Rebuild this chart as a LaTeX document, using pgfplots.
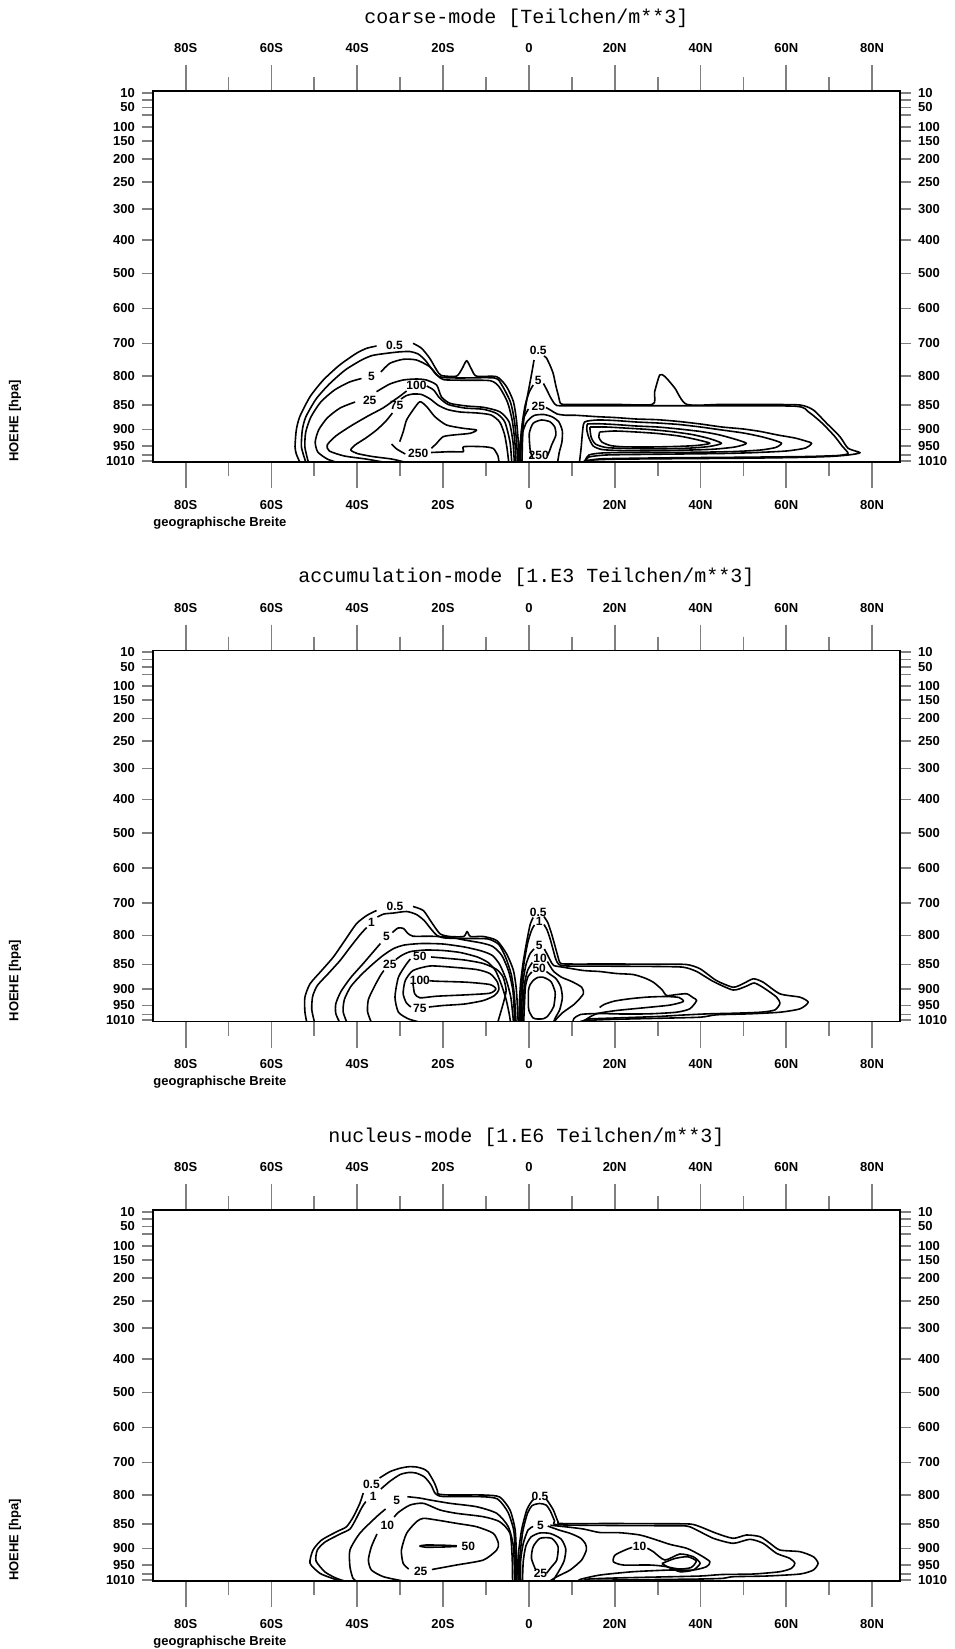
\documentclass[border=0pt]{standalone}
\usepackage{fontspec}
\usepackage{pgfplots}
\pgfplotsset{compat=1.18}
\setmainfont{Liberation Sans}
\newfontfamily\monofont{Liberation Mono}
\newcommand\tickfont{\fontsize{6.5}{7}\selectfont\bfseries}
\newcommand\clab{\fontsize{6}{6}\selectfont\bfseries}
\newcommand\titlefont{\fontsize{10}{12}\selectfont\monofont}

\pgfplotsset{
  zonal/.style={
    scale only axis, width=373.5pt, height=185.5pt,
    xmin=-87.6, xmax=86.5, ymin=0, ymax=371,
    axis line style={line width=0.9pt},
    tick align=outside,
    xtick={-80,-60,...,80},
    minor xtick={-70,-50,...,70},
    xticklabels={80S,60S,40S,20S,0,20N,40N,60N,80N},
    ytick={1.3,7,16,32.7,57,86,118.7,153.7,188.7,222,253,280.3,303,321.3,335.3,347,354.7,362,369.3},
    yticklabels={1010,,950,900,850,800,700,600,500,400,300,250,200,150,100,,50,,10},
    major tick length=5.5pt,
    major x tick style={line width=0.9pt,/pgfplots/major tick length=13pt},
    minor x tick style={line width=0.9pt,/pgfplots/minor tick length=7pt},
    major y tick style={line width=0.8pt},
    xticklabel style={font=\tickfont, yshift=-10pt},
    yticklabel style={font=\tickfont},
    unbounded coords=jump,
    every axis plot post/.append style={black, solid, mark=none, line width=0.8pt, smooth, tension=0.4, line join=round},
  },
  zonaltop/.style={zonal, xticklabel pos=upper, yticklabel pos=right, xticklabel style={yshift=20pt}},
}

\begin{document}
\begin{tikzpicture}[x=1pt,y=1pt]
\useasboundingbox (0,0) rectangle (477,-824.5);

% ---------------- coarse mode ----------------
\begin{axis}[zonal, at={(76.5pt,-231pt)}, anchor=south west]
% southern maximum
\addplot coordinates {(-53.4,0) (-54.2,8) (-54.5,15.3) (-54.2,32) (-53.4,45.3) (-51,65.3) (-47.9,82) (-44.1,97) (-40.2,108.7) (-37.8,113.7) (-35.5,116) (nan,nan) (-27,118.7) (-25,113.7) (-23.1,103.7) (-21.5,92) (-20.4,86.5) (-16.9,85.8) (-15.6,93) (-14.5,101.3) (-13.4,93) (-12.2,85.8) (-7.5,85.3) (-5.2,75.3) (-3.6,60.3) (-2.9,42) (-2.5,22) (-2.2,0)};
\addplot coordinates {(-52,0) (-53,15) (-52.8,32) (-52,45) (-49.6,63) (-46.5,78) (-42.8,92) (-39,102) (-36.5,106.5) (-33.5,108.5) (-30.5,110) (-27.8,110.5) (-25.8,108) (-24.2,102) (-22.8,94) (-21.5,87) (-20,84.5) (-16,84) (-8,84) (-6.3,77) (-4.3,60) (-3.4,42) (-2.9,22) (-2.6,0)};
\addplot coordinates {(-51.4,0) (-52.2,15) (-52,30) (-50.8,45) (-48.5,60) (-45.3,72) (-41.8,80) (-39,83.5) (nan,nan) (-34.5,90) (-32.4,98.7) (-29.3,102.7) (-26.2,102) (-23.1,95.3) (-21.2,86) (-19.8,82.3) (-16,81.8) (-9,81.3) (-6.9,75) (-5,60) (-3.9,42) (-3.3,22) (-3,0)};
\addplot coordinates {(-45,0) (-47,3) (-49.2,10) (-49.8,20) (-49,32) (-47,44) (-44,54) (-40.5,60) (nan,nan) (-35.5,70.3) (-32.4,78) (-29.3,82) (-26.2,83) (-23.9,82) (-21.5,77) (-20.4,65.3) (-18.4,58.7) (-14.5,56) (-10.6,54.7) (-6.8,50.3) (-4.6,40) (-3.7,20) (-3.4,0)};
\addplot coordinates {(-34,0) (-38,3) (-43,6) (-46.5,11) (-47,17) (-45,26) (-41.5,36) (-37.5,46) (-34,54) (-31.5,61.5) (-30,66) (-28.5,71) (nan,nan) (-23.8,76) (-22.2,72) (-20.8,64) (-18.8,57.5) (-15,54) (-10.6,52.7) (-7.5,48.5) (-5.6,40) (-4.4,20) (-4,0)};
\addplot coordinates {(-29,0) (-32,3) (-36.5,5.5) (-40,8.5) (-41.5,12) (-40.5,17) (-38,24) (-35.5,32) (-33.3,41) (-31.8,49) (nan,nan) (-29.8,63) (-28.5,66.5) (-27,68) (-25,67.5) (-23,63) (-21.2,57) (-19,52.5) (-16,50) (-12,49) (-8.8,47) (-6.8,40) (-5.7,28) (-5.1,14) (-4.7,0)};
\addplot coordinates {(-30.1,20.3) (-29.3,30) (-28.5,42) (-27,52) (-25.4,60.3) (-23.8,55.3) (-21.9,45.3) (-19.2,37) (-15.3,33.7) (-12.2,32) (-13.7,28.7) (-17.6,27) (-20,25.3) (-21.5,18.7) (-22.7,13.7)};
\addplot coordinates {(-32,18) (-30.8,13) (-28.8,8) (nan,nan) (-22.8,9.5) (-18.4,10.3) (-15.3,10.3) (-15.2,15.3) (-10.6,15.3) (-8.3,13.5) (-7.2,6) (-7,0)};
% equatorial tower and northern band
\addplot coordinates {(-1.6,0) (-1.5,20) (-1.2,42) (-0.5,62) (0.2,78) (0.8,92) (1.2,102) (nan,nan) (3.5,106) (4.1,104) (5,96) (5.7,88) (6.3,76) (6.9,66) (7.4,58.5) (9,57.6) (20,57.6) (28.8,57.6) (29.3,70) (30.5,87) (31.7,85.5) (34,74) (36.8,57.6) (45,57.6) (55,57.5) (63.2,57) (66.3,52) (69.4,38.7) (72.5,25.3) (74.4,13.7) (77.2,9.3) (74.4,7) (70,5.5) (62,4.5) (50,3.8) (40,3.5) (30,3.2) (20,2.8) (15,2) (13,0)};
\addplot coordinates {(-1.9,0) (-1.8,20) (-1.5,40) (-0.8,58) (0.1,70) (1,77) (nan,nan) (3.4,78.5) (4.2,72) (5,65) (5.7,60) (6.5,56.5) (9,56.2) (20,56.2) (40,56.2) (62,55.8) (65.2,50) (68.3,39) (71.2,26) (73,16) (74.4,8.5) (72,6.5) (65,5.5) (55,5) (45,4.6) (35,4.3) (25,3.8) (17,3.2) (13.5,1.5) (12.6,0)};
\addplot coordinates {(-2.1,0) (-2,18) (-1.7,33) (-1.1,45) (-0.1,53) (nan,nan) (4,54.5) (5.2,51.5) (6.6,48) (8.5,46.8) (11,46.7) (16,45.3) (20,44.5) (25,43) (30,42.3) (35,40.5) (40,38) (45,35) (50,33) (54,30.5) (58,27) (62,24) (64.5,21) (65.9,18.7) (64.5,14) (60,11) (52,9.3) (45,8.5) (35,8) (25,7.5) (18,7) (14,5) (13.2,0)};
\addplot coordinates {(-2.4,0) (-2.2,14) (-1.6,28) (-0.5,40) (1.2,46.5) (3.5,47.5) (5.5,45) (7,40) (7.8,31) (7.7,20) (7.1,10) (6.7,0)};
\addplot coordinates {(0.9,4) (0.3,12) (0.1,28.7) (1,38.7) (2.9,42) (4.9,40.3) (6,35.3) (6.3,27) (5.3,17) (4.9,12) (4.3,6)};
\addplot coordinates {(11.8,0) (12.2,15) (12.5,30) (13,40) (16,42) (20,41.5) (25,40) (30,39) (35,37.5) (40,35) (45,32) (50,29) (54,25.5) (57,22) (58.9,18.7) (57.5,14.5) (54,12) (48,10.5) (40,9.8) (30,9.5) (22,9.5) (17,9) (14,7) (12.9,0)};
\addplot coordinates {(13.6,38) (16,38.3) (20,37.5) (25,36) (30,35) (35,33) (40,30.5) (44,27.5) (47.5,23.5) (50.7,18.7) (48,15) (43,12.8) (36,11.8) (28,11.3) (21,11.5) (17,12.5) (15,16) (14,24) (13.5,32) (13.6,38)};
\addplot coordinates {(14.2,35) (18,35) (23,33.8) (28,32.5) (33,30.5) (38,27.5) (42,23.5) (44.9,18.7) (42,15.5) (37,13.8) (30,13.2) (23,13.5) (18,14.5) (15.5,18) (14.5,25) (14.2,35)};
\addplot coordinates {(16.5,30) (20,31) (25,30) (30,28.5) (35,26) (39,22.5) (42.2,18.7) (39,16.5) (34,15.5) (28,15) (22,15.2) (19,16.5) (17,20) (16.3,25) (16.5,30)};
\node[font=\clab] at (axis cs:-31.3,117) {0.5};
\node[font=\clab] at (axis cs:-36.7,85.3) {5};
\node[font=\clab] at (axis cs:-37.1,62) {25};
\node[font=\clab] at (axis cs:-26.2,76.5) {100};
\node[font=\clab] at (axis cs:-30.8,57) {75};
\node[font=\clab] at (axis cs:-25.8,8.7) {250};
\node[font=\clab] at (axis cs:2.2,111.3) {0.5};
\node[font=\clab] at (axis cs:2.2,82) {5};
\node[font=\clab] at (axis cs:2.2,56) {25};
\node[font=\clab] at (axis cs:2.3,7) {250};
\end{axis}
\begin{axis}[zonaltop, at={(76.5pt,-231pt)}, anchor=south west]
\end{axis}
\node[font=\titlefont] at (263.25,-9) {coarse-mode [Teilchen/m**3]};
\node[font=\tickfont, anchor=west, inner sep=0pt] at (76.5,-261.5) {geographische Breite};
\node[font=\tickfont, rotate=90] at (7.5,-210.5) {HOEHE [hpa]};

% ---------------- accumulation mode ----------------
\begin{axis}[zonal, at={(76.5pt,-510.75pt)}, anchor=south west]
\addplot coordinates {(-51.8,0) (-52.2,10) (-52.2,24.3) (-51,37.7) (-48.3,51) (-45.6,64.3) (-42.9,81) (-40.2,97.7) (-37.8,106) (-35.5,111) (nan,nan) (-27,115) (-24.6,111) (-22.7,99.3) (-20.7,87.7) (-18.4,85) (-15.2,85) (-14.4,90) (-13.6,85) (-10.6,85) (-7.5,81) (-5.2,67.7) (-3.6,51) (-2.9,31) (-2.5,0)};
\addplot coordinates {(-50,0) (-50.6,12) (-50.4,25) (-49.3,36) (-46.8,47.7) (-44,61) (-41.7,74) (-39.3,87) (-37.8,94) (nan,nan) (-35.3,104.5) (-33.8,107.5) (-31.5,108.5) (-28.5,110) (-26.2,107) (-24.4,101) (-22.9,93) (-21.4,86) (-19.5,83.5) (-14,83) (-9.5,82.5) (-7,77) (-5.4,64) (-4.1,47) (-3.4,27) (-3,0)};
\addplot coordinates {(-44.2,0) (-45,8) (-45,17.7) (-43.8,30) (-41.5,44) (-38.6,58) (-36.2,70) (-34.6,78) (nan,nan) (-31.8,89) (-30.5,93.5) (-29.2,93) (-28.3,88.5) (-27,85.3) (-23,85.3) (-18.4,84.3) (-15,81.5) (-11,78.5) (-8.4,75) (-6.3,66) (-4.7,50) (-3.7,30) (-3.3,0)};
\addplot coordinates {(-42.5,0) (-43.3,10) (-43,22) (-41.5,35) (-39,47) (-36.5,57) (-34,66) (-31.5,73) (-29,76.5) (-25,78) (-20,77.5) (-15,74.5) (-11,70.5) (-8.5,66) (-6.8,57) (-5.3,42) (-4.2,24) (-3.6,0)};
\addplot coordinates {(-36.8,0) (-37.6,10) (-37.4,22) (-36,35) (-34.6,46) (-33.8,51) (nan,nan) (-31,62) (-29.5,66.5) (-27.5,70) (-24,71.5) (-20,71) (-16,69) (-12,64.5) (-9.5,59) (-7.8,51) (-6.5,38) (-5.3,22) (-4.6,8) (-4.3,0)};
\addplot coordinates {(-7.2,0) (-6,17.7) (-5.3,31) (-6,44.3) (-7.5,52) (-10.6,58) (-15,61.5) (-20,63.5) (-22.8,64.5) (nan,nan) (-27.6,62.5) (-28.5,57.7) (-30.4,44.3) (-31.2,24.3) (-30.4,9.3) (-28.1,2.7) (-26,0)};
\addplot coordinates {(-23.3,14.5) (-20,16) (-15,17.5) (-10.6,21) (-8,26) (-7,32) (-7.4,40) (-9.1,48) (-12.2,52) (-18.4,54.5) (-23.1,55.5) (-27,51) (-28.8,41) (-29.3,28) (-28.6,19) (-27.5,14.5)};
\addplot coordinates {(-23.2,40.8) (-21.5,40.3) (-14.5,39.3) (-9.1,37) (-7.7,32.7) (-9.1,28.3) (-14.5,26.7) (-21.5,25.3) (-25.4,23.7) (-26.6,27.7) (-26.9,34.3) (-27,37.5)};
% equatorial tower and northern band
\addplot coordinates {(-2.3,0) (-2.2,20) (-1.9,40) (-1.3,60) (-0.5,80) (0.3,97) (1,104) (nan,nan) (3.5,105) (4.4,99) (5.2,89) (6,77) (6.7,66) (7.3,58.5) (9,57.5) (20,57.5) (30,57.3) (36.7,57) (39.9,52.7) (43.7,41) (47.6,34.3) (50,38) (52.3,42.7) (54.6,39.3) (58.5,27.7) (63.2,24.3) (65.1,19.3) (63.2,12.7) (58.5,9.3) (51.5,7.7) (43.7,6.7) (39.9,4.3) (30,3.2) (20,2.2) (14,1.2) (12,0)};
\addplot coordinates {(-2,0) (-1.9,22) (-1.6,42) (-1,62) (-0.2,80) (0.7,92) (1.3,96.5) (nan,nan) (3.5,97) (4.2,92) (5,82) (5.7,71) (6.3,62) (7,57) (9,55.5) (20,55.3) (30,55) (36,54.3) (39.1,50) (43,40) (47.6,31.5) (50.5,35) (52.5,38.5) (54.6,34) (57.7,24.5) (58.5,18) (57.3,11.5) (54,9.3) (48,8.3) (42,7.7) (36,6.5) (30,5) (20,3.5) (14,2.5) (12.3,0)};
\addplot coordinates {(-1.7,0) (-1.6,22) (-1.3,42) (-0.6,58) (0.3,68) (1.2,72.5) (nan,nan) (3.6,72.5) (4.3,67) (5,61) (5.8,56) (8,54.3) (12.7,51) (16.5,50) (20.4,48) (24.3,47) (27,43.5) (29,39.3) (31,32) (32.1,26) (34.5,27) (36.8,27.7) (38.2,24) (39.1,21) (37.5,12.7) (34.4,9.3) (28.2,7.7) (22,7.5) (16,8) (12,7) (10.5,3) (10.3,0)};
\addplot coordinates {(-1.5,0) (-1.3,20) (-1,38) (-0.3,51) (0.8,59) (nan,nan) (4.3,60) (5,55) (5.8,50) (7.6,44.3) (10,40) (12.3,34.3) (12.7,27.7) (10.7,17.7) (8,9.3) (6.5,3) (6,0)};
\addplot coordinates {(-1.2,0) (-1,20) (-0.8,35) (-0.2,45) (0.7,49.5) (nan,nan) (4.1,50) (5,47) (6.3,43) (7.4,35) (7.8,24) (7.2,12) (6.2,4) (5.8,0)};
\addplot coordinates {(1,41) (2,44) (3.3,44.3) (4.5,42) (5.3,39) (6.1,30) (6.1,24.3) (5.8,15) (5.3,11) (4.3,5) (3.3,2.7) (2,2.5) (1,3.5) (0.2,9) (-0.1,14) (-0.1,31) (0.3,37) (1,41)};
\addplot coordinates {(12.7,0) (14,4) (16,8) (20.4,11) (28.2,14.3) (33,16.5) (36,20) (35,24) (32,25) (28,24.5) (24,23) (20,20.5) (17.5,17) (16.5,14)};
\node[font=\clab] at (axis cs:-31.2,115) {0.5};
\node[font=\clab] at (axis cs:-36.7,99.3) {1};
\node[font=\clab] at (axis cs:-33.2,85) {5};
\node[font=\clab] at (axis cs:-32.4,56.7) {25};
\node[font=\clab] at (axis cs:-25.4,65) {50};
\node[font=\clab] at (axis cs:-25.4,41) {100};
\node[font=\clab] at (axis cs:-25.4,12.7) {75};
\node[font=\clab] at (axis cs:2.2,109.3) {0.5};
\node[font=\clab] at (axis cs:2.4,100.3) {1};
\node[font=\clab] at (axis cs:2.4,76) {5};
\node[font=\clab] at (axis cs:2.6,62.7) {10};
\node[font=\clab] at (axis cs:2.4,52.7) {50};
\end{axis}
\begin{axis}[zonaltop, at={(76.5pt,-510.75pt)}, anchor=south west]
\end{axis}
\node[font=\titlefont] at (263.25,-288.75) {accumulation-mode [1.E3 Teilchen/m**3]};
\node[font=\tickfont, anchor=west, inner sep=0pt] at (76.5,-541.25) {geographische Breite};
\node[font=\tickfont, rotate=90] at (7.5,-490.25) {HOEHE [hpa]};

% ---------------- nucleus mode ----------------
\begin{axis}[zonal, at={(76.5pt,-790.5pt)}, anchor=south west]
\addplot coordinates {(-44,0) (-46,3) (-48.7,7.7) (-51,17.7) (-50.3,31) (-48.3,41) (-44.8,49.3) (-42.5,54.3) (-40.9,64.3) (-39.4,77.7) (-38.6,88) (nan,nan) (-34.8,103) (-32.4,109.3) (-30.1,112.7) (-28,114.3) (-26.2,114) (-24.5,112) (-23.5,109) (-22.5,102) (-21.9,97) (-21.3,90) (-21.1,87) (-18.4,86) (-10.6,86) (-6.8,84) (-4.4,71) (-3.2,51) (-2.9,24) (-2.8,0)};
\addplot coordinates {(-43,0) (-45,3) (-47.5,9) (-49.6,20) (-49.3,31) (-47.5,39) (-44,47) (-41.7,52) (-40.3,62) (-39,73) (-38,79.5) (nan,nan) (-34.5,92) (-32.3,100) (-30,106.5) (-28,108.5) (-26.3,108) (-24.3,104) (-22.8,96) (-21.8,87.5) (-20,84.5) (-11,84.3) (-7.3,82) (-4.9,69) (-3.5,50) (-3.2,24) (-3.1,0)};
\addplot coordinates {(-40.2,0) (-41,2.7) (-41.7,14.3) (-41.7,31) (-39.4,47.7) (-35.5,64.3) (-33.4,72) (nan,nan) (-28.3,84.3) (-25.5,83) (-23,81) (-18.4,77.7) (-12.2,74.3) (-7.5,67.7) (-4.8,54.3) (-3.6,34.3) (-3.3,0)};
\addplot coordinates {(-29.3,0) (-33.9,4.3) (-36.7,11) (-37.4,21) (-36.7,34.3) (-35.4,47) (nan,nan) (-31.4,64) (-30.3,69) (-27.7,76) (-24.6,77.7) (-20.7,71) (-16.9,67.7) (-10.6,64.3) (-6.8,59.3) (-4.4,47.7) (-3.9,24.3) (-3.8,0)};
\addplot coordinates {(-22.6,11.5) (-16.9,16) (-10.6,21) (-7.5,31) (-7.1,37.7) (-8.3,47.7) (-12.2,54.3) (-16.9,57.7) (-21.5,61) (-24.6,62.7) (-26.2,59.3) (-28.5,47.7) (-29.7,31) (-29.3,17.7) (-28,12)};
\addplot coordinates {(-16.8,35.2) (-20,35.8) (-24,36) (-25.4,35) (-24,33.8) (-20,34) (-16.8,34.6)};
% equatorial tower and northern band
\addplot coordinates {(-2.5,0) (-2.5,24.3) (-1.7,51) (-0.5,71) (0.6,79.3) (1.2,82) (nan,nan) (4,82) (4.5,79.3) (5.7,71) (6.8,59.3) (7.6,57.5) (20,57.5) (30,57.3) (37.5,57) (39.9,54.3) (43.7,47.7) (47.6,42.7) (50.7,46) (53.9,44.3) (56.2,37.7) (58.5,31) (63.2,29.3) (66.3,24.3) (67.4,17.7) (66.3,11) (63.2,7) (55.4,5) (47.6,4.3) (45.3,2.7) (40,2) (30,1.5) (20,1) (13,0.5) (12,0)};
\addplot coordinates {(-2.2,0) (-2.1,24) (-1.4,50) (-0.3,68) (0.8,75.5) (2.5,77.5) (4,76) (5,70) (6,60) (6.6,56.3) (20,55.5) (30,55.3) (36.7,55) (39.1,51) (43,42.7) (47.6,37.7) (51.5,41.7) (54.6,37.7) (57.7,27.7) (60.8,22.7) (62,17.7) (61.2,12.7) (58.5,9.3) (52.3,7) (45,6.5) (40,5) (30,4) (20,3) (14,2) (12.5,0)};
\addplot coordinates {(-1.9,0) (-1.9,21) (-1.3,37.7) (-0.2,51) (1,54.5) (nan,nan) (4.4,55) (7,51) (9.6,47.7) (12,43) (13.2,37) (13.4,31) (12.3,21) (9.6,11) (6.5,4.3) (4.9,0)};
\addplot coordinates {(-1.5,0) (-1.3,20) (-0.7,35) (0.5,44) (2.5,48) (5,47.5) (7.5,42) (8.6,32) (8.2,20) (7,10) (6,3) (5.7,0)};
\addplot coordinates {(4.1,7.7) (5.3,14.3) (6.5,21) (6.8,34.3) (5.3,42.7) (2.6,42.7) (1,34.3) (0.6,22.7) (1.6,11)};
\addplot coordinates {(5,55.8) (9,54) (12.7,52) (16.55,48.5) (21.2,48.3) (25.9,46) (29.8,41) (33,36.5) (36.8,32.7) (39.9,26) (42.2,19.3) (41.4,14.3) (38.3,11) (32.9,11) (24.3,9.3) (16.6,6) (12,1.7) (11.5,0)};
\addplot coordinates {(24.1,33.6) (22.8,31.7) (20.1,26) (19.7,19.3) (22,16) (28.2,16) (32.1,14.3) (35.2,9.3) (38.3,11) (39.9,17.7) (38.3,24.3) (35.2,27) (31.7,21) (29,29.3) (27.6,32.8)};
\addplot coordinates {(31,17.5) (34,22.5) (37,24.3) (39,20) (37.8,13.5) (35.2,12) (32.5,14) (31,17.5)};
\node[font=\clab] at (axis cs:-36.7,97) {0.5};
\node[font=\clab] at (axis cs:-36.3,85) {1};
\node[font=\clab] at (axis cs:-30.8,81) {5};
\node[font=\clab] at (axis cs:-33,56) {10};
\node[font=\clab] at (axis cs:-25.2,9.3) {25};
\node[font=\clab] at (axis cs:-14.1,35) {50};
\node[font=\clab] at (axis cs:2.6,85) {0.5};
\node[font=\clab] at (axis cs:2.7,56) {5};
\node[font=\clab] at (axis cs:2.7,7.7) {25};
\node[font=\clab] at (axis cs:25.8,34.3) {10};
\end{axis}
\begin{axis}[zonaltop, at={(76.5pt,-790.5pt)}, anchor=south west]
\end{axis}
\node[font=\titlefont] at (263.25,-568.5) {nucleus-mode [1.E6 Teilchen/m**3]};
\node[font=\tickfont, anchor=west, inner sep=0pt] at (76.5,-821) {geographische Breite};
\node[font=\tickfont, rotate=90] at (7.5,-770) {HOEHE [hpa]};
\end{tikzpicture}
\end{document}
